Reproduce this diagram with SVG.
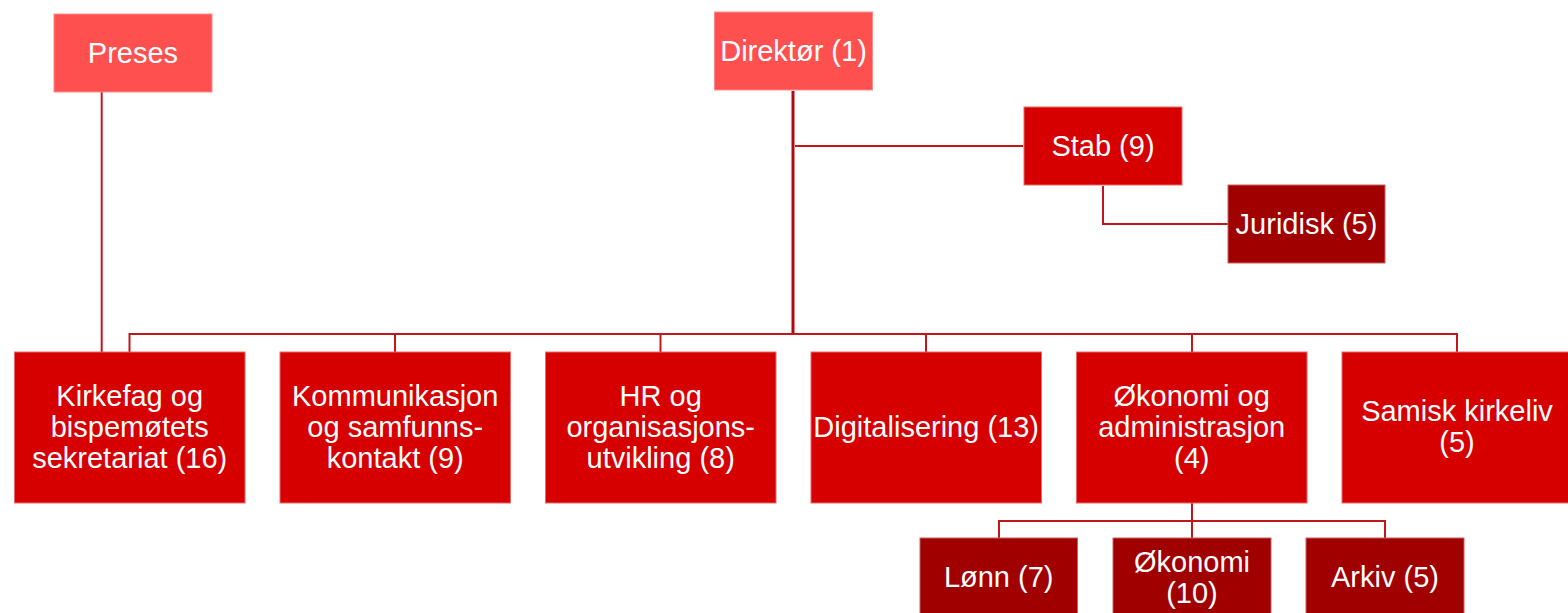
<svg xmlns="http://www.w3.org/2000/svg" width="1568" height="613" viewBox="0 0 1568 613">
<style>
.l1{fill:#FF5050;stroke:#FF8A8A;stroke-width:1}
.l2{fill:#D60000;stroke:#E86A6A;stroke-width:1}
.l3{fill:#A00000;stroke:#C86060;stroke-width:1}
text{font-family:"Liberation Sans",Arial,sans-serif;font-size:29px;fill:#FFFFFF;text-anchor:middle}
.c{fill:none;stroke:#C0161C;stroke-width:2}
.cm{fill:none;stroke:#B00A10;stroke-width:3}
</style>
<rect width="1568" height="613" fill="#FFFFFF"/>
<g id="connectors">
<line class="c" x1="101.7" y1="92" x2="101.7" y2="352"/>
<line class="cm" x1="793" y1="91" x2="793" y2="335"/>
<polyline class="c" points="795,146 1023,146"/>
<polyline class="c" points="1103,186 1103,224 1228,224"/>
<polyline class="c" points="129.5,352 129.5,334 1457,334 1457,352"/>
<line class="c" x1="395" y1="334" x2="395" y2="352"/>
<line class="c" x1="660.5" y1="334" x2="660.5" y2="352"/>
<line class="c" x1="926" y1="334" x2="926" y2="352"/>
<line class="c" x1="1192" y1="334" x2="1192" y2="352"/>
<line class="c" x1="1192" y1="503" x2="1192" y2="538"/>
<polyline class="c" points="999,538 999,521 1385,521 1385,538"/>
</g>
<g id="preses"><rect class="l1" x="54" y="14" width="158" height="78"/><text x="133" y="63">Preses</text></g>
<g id="direktor"><rect class="l1" x="714.5" y="12" width="158" height="78"/><text x="793.5" y="61">Direktør (1)</text></g>
<g id="stab"><rect class="l2" x="1024" y="107" width="158" height="78"/><text x="1103" y="156">Stab (9)</text></g>
<g id="juridisk"><rect class="l3" x="1228" y="185" width="157" height="78"/><text x="1306.5" y="234">Juridisk (5)</text></g>
<g id="kirkefag"><rect class="l2" x="14.5" y="352" width="230.5" height="151"/><text x="129.7" y="406">Kirkefag og</text><text x="129.7" y="437">bispemøtets</text><text x="129.7" y="468">sekretariat (16)</text></g>
<g id="kommunikasjon"><rect class="l2" x="280" y="352" width="230.5" height="151"/><text x="395.2" y="406">Kommunikasjon</text><text x="395.2" y="437">og samfunns-</text><text x="395.2" y="468">kontakt (9)</text></g>
<g id="hr"><rect class="l2" x="545.5" y="352" width="230.5" height="151"/><text x="660.7" y="406">HR og</text><text x="660.7" y="437">organisasjons-</text><text x="660.7" y="468">utvikling (8)</text></g>
<g id="digitalisering"><rect class="l2" x="811" y="352" width="230.5" height="151"/><text x="926.2" y="437">Digitalisering (13)</text></g>
<g id="okonomi-adm"><rect class="l2" x="1076.5" y="352" width="230.5" height="151"/><text x="1191.7" y="406">Økonomi og</text><text x="1191.7" y="437">administrasjon</text><text x="1191.7" y="468">(4)</text></g>
<g id="samisk"><rect class="l2" x="1342" y="352" width="230.5" height="151"/><text x="1457" y="421">Samisk kirkeliv</text><text x="1457" y="452">(5)</text></g>
<g id="lonn"><rect class="l3" x="920" y="538" width="157.5" height="80"/><text x="998.7" y="587">Lønn (7)</text></g>
<g id="okonomi"><rect class="l3" x="1113" y="538" width="158" height="80"/><text x="1192" y="572">Økonomi</text><text x="1192" y="603">(10)</text></g>
<g id="arkiv"><rect class="l3" x="1306" y="538" width="158" height="80"/><text x="1385" y="587">Arkiv (5)</text></g>
</svg>
